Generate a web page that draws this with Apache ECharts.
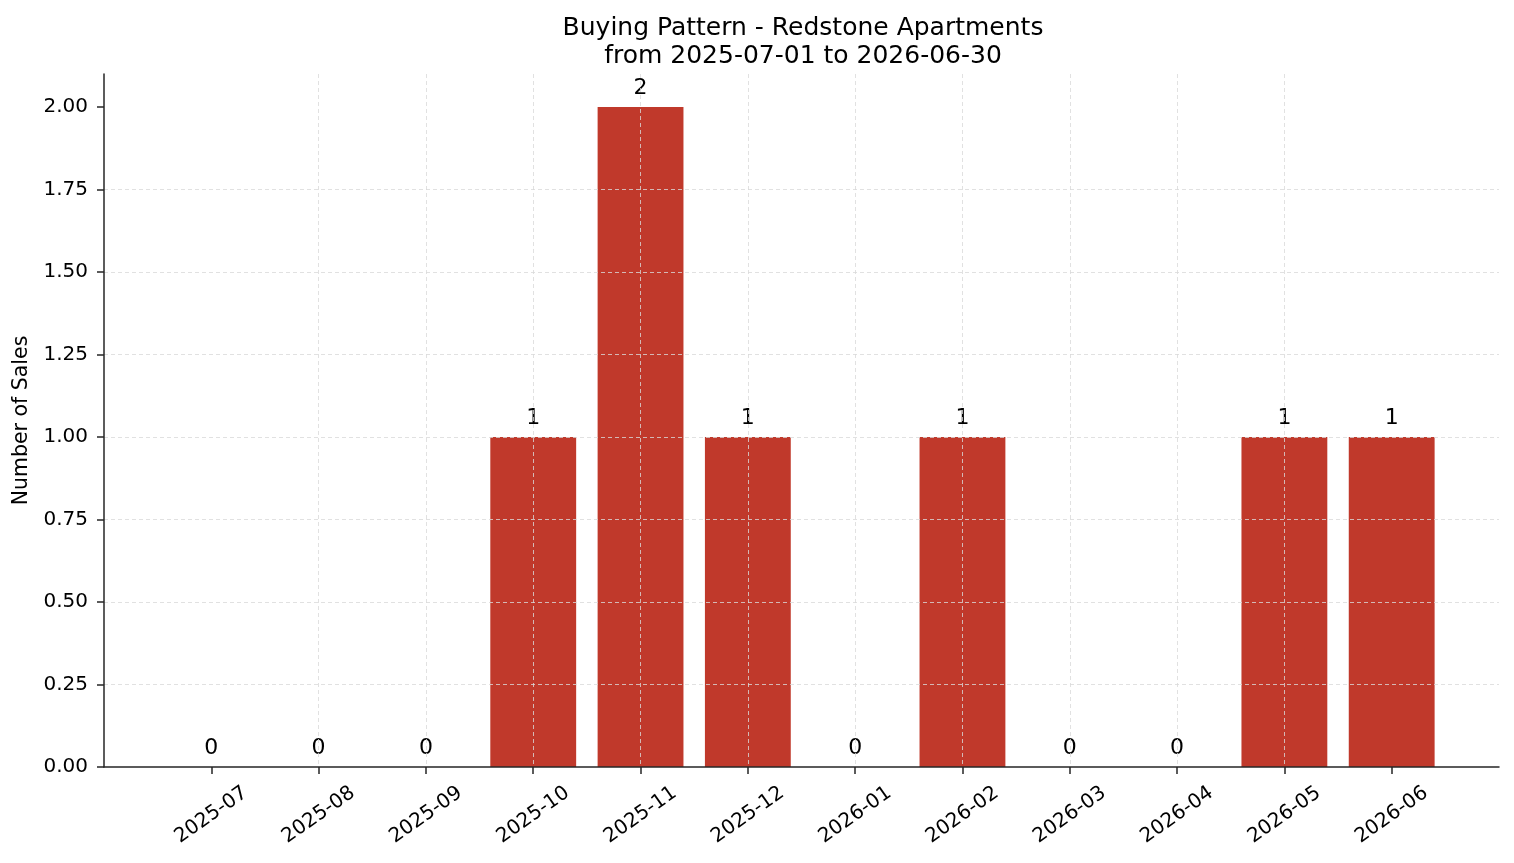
<!DOCTYPE html>
<html><head><meta charset="utf-8">
<script src="https://cdn.jsdelivr.net/npm/echarts@6/dist/echarts.min.js"></script>
<style>html,body{margin:0;padding:0;background:#fff}#c{width:1514px;height:863px}</style>
</head><body><div id="c"></div>
<script>
const titleText = "Buying Pattern - Redstone Apartments\nfrom 2025-07-01 to 2026-06-30";
const yAxisName = "Number of Sales";
const months = ["2025-07","2025-08","2025-09","2025-10","2025-11","2025-12","2026-01","2026-02","2026-03","2026-04","2026-05","2026-06"];
const sales = [0,0,0,1,2,1,0,1,0,0,1,1];
const yTicks = [0,0.25,0.5,0.75,1,1.25,1.5,1.75,2];

const font = "DejaVu Sans";
const gridL = 104, gridR = 15, gridT = 74, gridB = 96;
const xMin = -1, xMax = months.length;
const unitPx = (1514 - gridL - gridR) / (xMax - xMin);
const axisColor = '#262626';
const gridLine = {show:true, showMinLine:false, showMaxLine:false, lineStyle:{color:'#d9d9d9', type:[4,3], width:0.8}};

const chart = echarts.init(document.getElementById('c'), null, {renderer:'canvas'});
chart.setOption({
  backgroundColor:'#fff',
  animation:false,
  title:{text:titleText, left:798, top:9, textAlign:'center',
    textStyle:{fontFamily:font, fontSize:25, fontWeight:'normal', color:'#000', lineHeight:28}},
  grid:{left:gridL, right:gridR, top:gridT, bottom:gridB, containLabel:false, outerBoundsMode:'none'},
  xAxis:{type:'value', min:xMin, max:xMax, interval:1, z:3,
    axisLine:{show:true, onZero:false, lineStyle:{color:axisColor, width:1.5}},
    axisTick:{show:true, length:7, customValues: months.map((m,i)=>i), lineStyle:{color:axisColor, width:1.5}},
    axisLabel:{customValues: months.map((m,i)=>i), formatter:v=>months[v] ?? '', rotate:35, margin:48,
      align:'center', verticalAlign:'middle',
      fontFamily:font, fontSize:20, color:'#000'},
    splitLine:gridLine
  },
  yAxis:{type:'value', min:0, max:2.1, interval:0.25, z:3,
    name:yAxisName, nameLocation:'middle', nameGap:71, nameRotate:90,
    nameTextStyle:{fontFamily:font, fontSize:20.5, color:'#000'},
    axisLine:{show:true, onZero:false, lineStyle:{color:axisColor, width:1.5}},
    axisTick:{show:true, length:7, customValues:yTicks, lineStyle:{color:axisColor, width:1.5}},
    axisLabel:{customValues:yTicks, formatter:v=>v.toFixed(2), margin:16, fontFamily:font, fontSize:20, color:'#000'},
    splitLine:gridLine
  },
  series:[{type:'bar', data:sales.map((v,i)=>[i,v]), barWidth: unitPx*0.8, z:2,
    itemStyle:{color:'#c0392b'},
    label:{show:true, position:'top', distance:8, formatter:p=>String(p.value[1]),
      fontFamily:font, fontSize:22, color:'#000'}
  }]
});
</script></body></html>
